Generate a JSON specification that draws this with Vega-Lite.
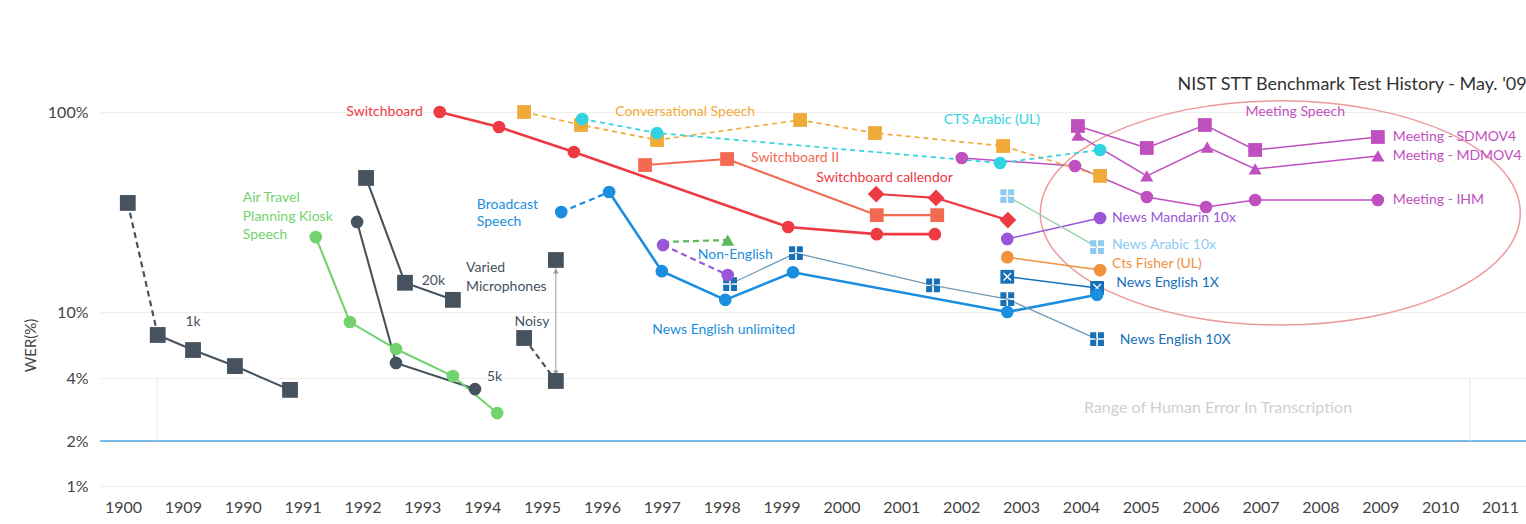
{
  "$schema": "https://vega.github.io/schema/vega-lite/v6.json",
  "width": 1426,
  "height": 495,
  "autosize": {"type": "none"},
  "padding": {"left": 100, "top": 0, "right": 0, "bottom": 29},
  "background": "white",
  "title": {
    "text": "NIST STT Benchmark Test History - May. '09",
    "anchor": "end",
    "orient": "top",
    "offset": -94,
    "font": "Lato",
    "fontSize": 18,
    "fontWeight": "normal",
    "color": "#333333"
  },
  "config": {"view": {"stroke": null}, "font": "Lato"},
  "datasets": {
    "pts": [
      {"s": "1k lead", "x": 1988.08, "y": 35.1},
      {"s": "1k", "x": 1988.58, "y": 7.27},
      {"s": "1k", "x": 1989.17, "y": 5.9},
      {"s": "1k", "x": 1989.87, "y": 4.72},
      {"s": "1k", "x": 1990.79, "y": 3.51},
      {"s": "20k", "x": 1992.06, "y": 46.8},
      {"s": "20k", "x": 1992.71, "y": 14.0},
      {"s": "20k", "x": 1993.51, "y": 11.5},
      {"s": "5k", "x": 1991.91, "y": 28.2},
      {"s": "5k", "x": 1992.56, "y": 4.93},
      {"s": "5k", "x": 1993.88, "y": 3.54},
      {"s": "ATIS", "x": 1991.22, "y": 23.7},
      {"s": "ATIS", "x": 1991.79, "y": 8.7},
      {"s": "ATIS", "x": 1992.56, "y": 5.98},
      {"s": "ATIS", "x": 1993.51, "y": 4.11},
      {"s": "ATIS", "x": 1994.25, "y": 2.72},
      {"s": "Noisy", "x": 1994.7, "y": 6.97},
      {"s": "Noisy", "x": 1995.23, "y": 3.87},
      {"s": "Varied", "x": 1995.23, "y": 18.2},
      {"s": "Switchboard", "x": 1993.29, "y": 100},
      {"s": "Switchboard", "x": 1994.28, "y": 84.1},
      {"s": "Switchboard", "x": 1995.53, "y": 63.1},
      {"s": "Switchboard", "x": 1999.11, "y": 26.6},
      {"s": "Switchboard", "x": 2000.59, "y": 24.5},
      {"s": "Switchboard", "x": 2001.56, "y": 24.5},
      {"s": "Switchboard cellular", "x": 2000.58, "y": 38.9},
      {"s": "Switchboard cellular", "x": 2001.58, "y": 37.2},
      {"s": "Switchboard cellular", "x": 2002.78, "y": 28.8},
      {"s": "Switchboard II", "x": 1996.72, "y": 54.3},
      {"s": "Switchboard II", "x": 1998.09, "y": 58.2},
      {"s": "Switchboard II", "x": 2000.59, "y": 30.5},
      {"s": "Switchboard II", "x": 2001.6, "y": 30.5},
      {"s": "Conversational Speech", "x": 1994.7, "y": 100},
      {"s": "Conversational Speech", "x": 1995.65, "y": 86.1},
      {"s": "Conversational Speech", "x": 1996.92, "y": 72.4},
      {"s": "Conversational Speech", "x": 1999.31, "y": 91.2},
      {"s": "Conversational Speech", "x": 2000.56, "y": 78.5},
      {"s": "Conversational Speech", "x": 2002.7, "y": 67.6},
      {"s": "Conversational Speech", "x": 2004.32, "y": 47.9},
      {"s": "CTS Arabic (UL)", "x": 1995.67, "y": 92.3},
      {"s": "CTS Arabic (UL)", "x": 1996.92, "y": 78.5},
      {"s": "CTS Arabic (UL)", "x": 2002.65, "y": 55.6},
      {"s": "CTS Arabic (UL)", "x": 2004.32, "y": 64.6},
      {"s": "Broadcast lead", "x": 1995.32, "y": 31.6},
      {"s": "Broadcast News", "x": 1996.12, "y": 39.8},
      {"s": "Broadcast News", "x": 1997.0, "y": 16.0},
      {"s": "Broadcast News", "x": 1998.06, "y": 11.5},
      {"s": "Broadcast News", "x": 1999.19, "y": 15.8},
      {"s": "Broadcast News", "x": 2002.77, "y": 10.0},
      {"s": "Broadcast News", "x": 2004.27, "y": 12.2},
      {"s": "Non-English", "x": 1997.02, "y": 21.6},
      {"s": "Non-English", "x": 1998.1, "y": 15.3},
      {"s": "Non-English tri", "x": 1998.1, "y": 22.9},
      {"s": "News English 10X", "x": 1998.14, "y": 13.8},
      {"s": "News English 10X", "x": 1999.24, "y": 19.7},
      {"s": "News English 10X", "x": 2001.53, "y": 13.6},
      {"s": "News English 10X", "x": 2002.77, "y": 11.6},
      {"s": "News English 10X", "x": 2004.27, "y": 6.87},
      {"s": "News English 1X", "x": 2002.77, "y": 15.0},
      {"s": "News English 1X", "x": 2004.27, "y": 13.2},
      {"s": "News Arabic 10x", "x": 2002.77, "y": 38.0},
      {"s": "News Arabic 10x", "x": 2004.27, "y": 21.1},
      {"s": "News Mandarin 10x", "x": 2002.77, "y": 23.2},
      {"s": "News Mandarin 10x", "x": 2004.32, "y": 29.5},
      {"s": "Cts Fisher (UL)", "x": 2002.77, "y": 18.8},
      {"s": "Cts Fisher (UL)", "x": 2004.32, "y": 16.2},
      {"s": "Meeting - SDMOV4", "x": 2003.95, "y": 85.1},
      {"s": "Meeting - SDMOV4", "x": 2005.1, "y": 66.1},
      {"s": "Meeting - SDMOV4", "x": 2006.07, "y": 86.1},
      {"s": "Meeting - SDMOV4", "x": 2006.91, "y": 64.6},
      {"s": "Meeting - SDMOV4", "x": 2008.96, "y": 75.0},
      {"s": "Meeting - MDMOV4", "x": 2003.95, "y": 76.7},
      {"s": "Meeting - MDMOV4", "x": 2005.1, "y": 47.9},
      {"s": "Meeting - MDMOV4", "x": 2006.11, "y": 66.8},
      {"s": "Meeting - MDMOV4", "x": 2006.91, "y": 51.9},
      {"s": "Meeting - MDMOV4", "x": 2008.96, "y": 60.3},
      {"s": "Meeting - IHM", "x": 2002.01, "y": 58.9},
      {"s": "Meeting - IHM", "x": 2003.9, "y": 53.7},
      {"s": "Meeting - IHM", "x": 2005.1, "y": 37.6},
      {"s": "Meeting - IHM", "x": 2006.09, "y": 33.5},
      {"s": "Meeting - IHM", "x": 2006.91, "y": 36.3},
      {"s": "Meeting - IHM", "x": 2008.96, "y": 36.3}
    ],
    "links": [
      {"s": "1k lead", "x": 1988.08, "y": 35.1, "x2": 1988.58, "y2": 7.27},
      {"s": "Broadcast lead", "x": 1995.32, "y": 31.6, "x2": 1996.12, "y2": 39.8},
      {"s": "Non-English tri", "x": 1997.02, "y": 22.4, "x2": 1998.1, "y2": 22.9}
    ],
    "arrow": [
      {"s": "Arrow", "x": 1995.23, "y": 17.2, "x2": 1995.23, "y2": 3.95}
    ],
    "arrowTips": [
      {"end": "top", "x": 1995.23, "y": 16.0},
      {"end": "bottom", "x": 1995.23, "y": 4.3}
    ],
    "humanRange": [
      {"x": 1988.57, "y": 4, "y2": 2},
      {"x": 2010.5, "y": 4, "y2": 2}
    ],
    "ellipse": [
      {"x": 2007.33, "y": 31.3}
    ],
    "labelsLeft": [
      {"t": "20k", "s": "20k", "x": 1992.99, "y": 14.3},
      {"t": "5k", "s": "5k", "x": 1994.08, "y": 4.06},
      {"t": "Varied", "s": "Varied", "x": 1993.73, "y": 16.6},
      {"t": "Microphones", "s": "Varied", "x": 1993.73, "y": 13.3},
      {"t": "Air Travel", "s": "ATIS", "x": 1990.0, "y": 37.2},
      {"t": "Planning Kiosk", "s": "ATIS", "x": 1990.0, "y": 29.9},
      {"t": "Speech", "s": "ATIS", "x": 1990.0, "y": 24.3},
      {"t": "CTS Arabic (UL)", "s": "CTS Arabic (UL)", "x": 2001.71, "y": 91.2},
      {"t": "Switchboard II", "s": "Switchboard II", "x": 1998.49, "y": 58.9},
      {"t": "Switchboard callendor", "s": "Switchboard cellular", "x": 1999.58, "y": 46.8},
      {"t": "Broadcast", "s": "Broadcast News", "x": 1993.91, "y": 34.3},
      {"t": "Speech", "s": "Broadcast News", "x": 1993.91, "y": 28.2},
      {"t": "Non-English", "s": "Broadcast News", "x": 1997.6, "y": 19.3},
      {"t": "News English unlimited", "s": "Broadcast News", "x": 1996.84, "y": 7.79},
      {"t": "News Mandarin 10x", "s": "News Mandarin 10x", "x": 2004.52, "y": 29.5},
      {"t": "News Arabic 10x", "s": "News Arabic 10x", "x": 2004.52, "y": 21.6},
      {"t": "Cts Fisher (UL)", "s": "Cts Fisher (UL)", "x": 2004.52, "y": 17.4},
      {"t": "News English 1X", "s": "News English 10X", "x": 2004.59, "y": 14.0},
      {"t": "News English 10X", "s": "News English 10X", "x": 2004.65, "y": 6.78},
      {"t": "Meeting - SDMOV4", "s": "Meeting - SDMOV4", "x": 2009.21, "y": 75.0},
      {"t": "Meeting - MDMOV4", "s": "Meeting - MDMOV4", "x": 2009.21, "y": 60.3},
      {"t": "Meeting - IHM", "s": "Meeting - IHM", "x": 2009.21, "y": 36.3}
    ],
    "labelsCenter": [
      {"t": "1k", "s": "1k", "x": 1989.17, "y": 8.7},
      {"t": "Noisy", "s": "Noisy", "x": 1994.83, "y": 8.7},
      {"t": "Conversational Speech", "s": "Conversational Speech", "x": 1997.39, "y": 100},
      {"t": "Meeting Speech", "s": "Meeting - SDMOV4", "x": 2007.58, "y": 100}
    ],
    "labelsRight": [
      {"t": "Switchboard", "s": "Switchboard", "x": 1993.01, "y": 100}
    ],
    "note": [
      {"t": "Range of Human Error In Transcription", "x": 2006.29, "y": 2.88}
    ]
  },
  "layer": [
    {
      "data": {"values": [{"y": 2}]},
      "mark": {"type": "rule", "color": "#4ea6e0", "strokeWidth": 1.5},
      "encoding": {
        "y": {
          "field": "y",
          "type": "quantitative",
          "scale": {"type": "log", "domain": [1, 2, 4, 10, 100], "range": [486, 441, 378, 312, 112], "nice": false, "zero": false},
          "axis": {
            "values": [1, 2, 4, 10, 100],
            "labelExpr": "datum.value + '%'",
            "title": "WER(%)",
            "titleFont": "Lato",
            "titleFontSize": 15,
            "titleFontWeight": "normal",
            "titleColor": "#444444",
            "titleX": -70,
            "titleY": 345,
            "titleAngle": -90,
            "titleAlign": "center",
            "titleBaseline": "middle",
            "labelFont": "Lato",
            "labelFontSize": 16,
            "labelColor": "#444444",
            "labelPadding": 12,
            "ticks": false,
            "domain": false,
            "grid": true,
            "gridColor": "#eeeeee",
            "gridWidth": 1
          }
        }
      }
    },
    {
      "data": {"name": "humanRange"},
      "mark": {"type": "rule", "color": "#e8e8e8", "strokeWidth": 1},
      "encoding": {
        "x": {
          "field": "x",
          "type": "quantitative",
          "scale": {"type": "linear", "domain": [1987.616, 2011.434], "nice": false, "zero": false},
          "axis": {
            "values": [1988, 1989, 1990, 1991, 1992, 1993, 1994, 1995, 1996, 1997, 1998, 1999, 2000, 2001, 2002, 2003, 2004, 2005, 2006, 2007, 2008, 2009, 2010, 2011],
            "format": "d",
            "labelExpr": "datum.value == 1988 ? '1900' : datum.value == 1989 ? '1909' : datum.label",
            "title": null,
            "grid": false,
            "ticks": false,
            "domain": false,
            "labelFont": "Lato",
            "labelFontSize": 16,
            "labelColor": "#444444",
            "labelPadding": 4,
            "labelOverlap": false,
            "labelFlush": false
          }
        },
        "y": {"field": "y", "type": "quantitative"},
        "y2": {"field": "y2"}
      }
    },
    {
      "data": {"name": "note"},
      "mark": {"type": "text", "font": "Lato", "fontSize": 16, "color": "#cfcfcf", "align": "center", "baseline": "middle"},
      "encoding": {
        "x": {"field": "x", "type": "quantitative"},
        "y": {"field": "y", "type": "quantitative"},
        "text": {"field": "t"}
      }
    },
    {
      "data": {"name": "ellipse"},
      "mark": {
        "type": "point",
        "shape": "M -1 0 C -1 -0.258 -0.552 -0.467 0 -0.467 C 0.552 -0.467 1 -0.258 1 0 C 1 0.258 0.552 0.467 0 0.467 C -0.552 0.467 -1 0.258 -1 0 Z",
        "size": 230400,
        "filled": false,
        "color": "#eb9a9a",
        "strokeWidth": 1.5,
        "opacity": 1
      },
      "encoding": {
        "x": {"field": "x", "type": "quantitative"},
        "y": {"field": "y", "type": "quantitative"}
      }
    },
    {
      "data": {"name": "arrow"},
      "mark": {"type": "rule", "color": "#9a9a9a", "strokeWidth": 1},
      "encoding": {
        "x": {"field": "x", "type": "quantitative"},
        "y": {"field": "y", "type": "quantitative"},
        "x2": {"field": "x2"},
        "y2": {"field": "y2"}
      }
    },
    {
      "data": {"name": "arrowTips"},
      "mark": {"type": "point", "filled": true, "size": 30, "color": "#9a9a9a", "opacity": 1},
      "encoding": {
        "x": {"field": "x", "type": "quantitative"},
        "y": {"field": "y", "type": "quantitative"},
        "shape": {"field": "end", "type": "nominal", "scale": {"domain": ["top", "bottom"], "range": ["triangle-up", "triangle-down"]}, "legend": null}
      }
    },
    {
      "data": {"name": "links"},
      "mark": {"type": "rule", "strokeWidth": 2.2, "strokeDash": [6, 4]},
      "encoding": {
        "x": {"field": "x", "type": "quantitative"},
        "y": {"field": "y", "type": "quantitative"},
        "x2": {"field": "x2"},
        "y2": {"field": "y2"},
        "color": {
          "field": "s",
          "type": "nominal",
          "legend": null,
          "scale": {
            "domain": ["1k", "1k lead", "20k", "5k", "Noisy", "Varied", "ATIS", "Switchboard", "Switchboard cellular", "Switchboard II", "Conversational Speech", "CTS Arabic (UL)", "Broadcast lead", "Broadcast News", "Non-English", "Non-English tri", "News English 10X", "News English 1X", "News Arabic 10x", "News Mandarin 10x", "Cts Fisher (UL)", "Meeting - SDMOV4", "Meeting - MDMOV4", "Meeting - IHM"],
            "range": ["#46535f", "#46535f", "#46535f", "#46535f", "#46535f", "#46535f", "#72d36e", "#ee3a43", "#ee3a43", "#f26a52", "#f0aa3a", "#2fd4e0", "#1c8ee0", "#1c8ee0", "#9b55d8", "#5cb85c", "#1670b8", "#1670b8", "#8ecbf2", "#9b55d8", "#f0913c", "#c04fc0", "#c04fc0", "#c04fc0"]
          }
        }
      }
    },
    {
      "data": {"name": "pts"},
      "transform": [{"filter": {"field": "s", "oneOf": ["Switchboard", "Broadcast News"]}}],
      "mark": {"type": "line", "strokeWidth": 2.6},
      "encoding": {
        "x": {"field": "x", "type": "quantitative"},
        "y": {"field": "y", "type": "quantitative"},
        "color": {"field": "s", "type": "nominal", "legend": null}
      }
    },
    {
      "data": {"name": "pts"},
      "transform": [{"filter": {"field": "s", "oneOf": ["1k", "20k", "5k", "ATIS", "Switchboard cellular", "Switchboard II"]}}],
      "mark": {"type": "line", "strokeWidth": 2.1},
      "encoding": {
        "x": {"field": "x", "type": "quantitative"},
        "y": {"field": "y", "type": "quantitative"},
        "color": {"field": "s", "type": "nominal", "legend": null}
      }
    },
    {
      "data": {"name": "pts"},
      "transform": [{"filter": {"field": "s", "oneOf": ["Meeting - SDMOV4", "Meeting - MDMOV4", "Meeting - IHM", "News Mandarin 10x", "Cts Fisher (UL)", "News English 1X"]}}],
      "mark": {"type": "line", "strokeWidth": 1.5},
      "encoding": {
        "x": {"field": "x", "type": "quantitative"},
        "y": {"field": "y", "type": "quantitative"},
        "color": {"field": "s", "type": "nominal", "legend": null}
      }
    },
    {
      "data": {"name": "pts"},
      "transform": [{"filter": {"field": "s", "equal": "News English 10X"}}],
      "mark": {"type": "line", "strokeWidth": 1.3, "color": "#6d9ab8"},
      "encoding": {
        "x": {"field": "x", "type": "quantitative"},
        "y": {"field": "y", "type": "quantitative"}
      }
    },
    {
      "data": {"name": "pts"},
      "transform": [{"filter": {"field": "s", "equal": "News Arabic 10x"}}],
      "mark": {"type": "line", "strokeWidth": 1.3, "color": "#93d3a6"},
      "encoding": {
        "x": {"field": "x", "type": "quantitative"},
        "y": {"field": "y", "type": "quantitative"}
      }
    },
    {
      "data": {"name": "pts"},
      "transform": [{"filter": {"field": "s", "oneOf": ["Conversational Speech", "CTS Arabic (UL)"]}}],
      "mark": {"type": "line", "strokeWidth": 1.7, "strokeDash": [5, 4]},
      "encoding": {
        "x": {"field": "x", "type": "quantitative"},
        "y": {"field": "y", "type": "quantitative"},
        "color": {"field": "s", "type": "nominal", "legend": null}
      }
    },
    {
      "data": {"name": "pts"},
      "transform": [{"filter": {"field": "s", "oneOf": ["Non-English", "Noisy"]}}],
      "mark": {"type": "line", "strokeWidth": 2.2, "strokeDash": [6, 4]},
      "encoding": {
        "x": {"field": "x", "type": "quantitative"},
        "y": {"field": "y", "type": "quantitative"},
        "color": {"field": "s", "type": "nominal", "legend": null}
      }
    },
    {
      "data": {"name": "pts"},
      "transform": [{"filter": {"field": "s", "oneOf": ["1k", "1k lead", "20k", "Noisy", "Varied"]}}],
      "mark": {"type": "point", "shape": "square", "filled": true, "size": 250, "opacity": 1},
      "encoding": {
        "x": {"field": "x", "type": "quantitative"},
        "y": {"field": "y", "type": "quantitative"},
        "color": {"field": "s", "type": "nominal", "legend": null}
      }
    },
    {
      "data": {"name": "pts"},
      "transform": [{"filter": {"field": "s", "oneOf": ["Switchboard II", "Conversational Speech", "Meeting - SDMOV4", "News English 1X"]}}],
      "mark": {"type": "point", "shape": "square", "filled": true, "size": 190, "opacity": 1},
      "encoding": {
        "x": {"field": "x", "type": "quantitative"},
        "y": {"field": "y", "type": "quantitative"},
        "color": {"field": "s", "type": "nominal", "legend": null}
      }
    },
    {
      "data": {"name": "pts"},
      "transform": [{"filter": {"field": "s", "equal": "News English 1X"}}],
      "mark": {"type": "point", "shape": "M -0.55 -0.55 L 0.55 0.55 M 0.55 -0.55 L -0.55 0.55", "filled": false, "size": 190, "color": "white", "strokeWidth": 1.4, "opacity": 1},
      "encoding": {
        "x": {"field": "x", "type": "quantitative"},
        "y": {"field": "y", "type": "quantitative"}
      }
    },
    {
      "data": {"name": "pts"},
      "transform": [{"filter": {"field": "s", "oneOf": ["News English 10X", "News Arabic 10x"]}}],
      "mark": {"type": "point", "shape": "M -1 -1 H -0.12 V -0.12 H -1 Z M 0.12 -1 H 1 V -0.12 H 0.12 Z M -1 0.12 H -0.12 V 1 H -1 Z M 0.12 0.12 H 1 V 1 H 0.12 Z", "filled": true, "size": 190, "opacity": 1},
      "encoding": {
        "x": {"field": "x", "type": "quantitative"},
        "y": {"field": "y", "type": "quantitative"},
        "color": {"field": "s", "type": "nominal", "legend": null}
      }
    },
    {
      "data": {"name": "pts"},
      "transform": [{"filter": {"field": "s", "oneOf": ["5k", "ATIS", "Switchboard", "CTS Arabic (UL)", "Broadcast lead", "Broadcast News", "Non-English", "News Mandarin 10x", "Cts Fisher (UL)", "Meeting - IHM"]}}],
      "mark": {"type": "point", "shape": "circle", "filled": true, "size": 160, "opacity": 1},
      "encoding": {
        "x": {"field": "x", "type": "quantitative"},
        "y": {"field": "y", "type": "quantitative"},
        "color": {"field": "s", "type": "nominal", "legend": null}
      }
    },
    {
      "data": {"name": "pts"},
      "transform": [{"filter": {"field": "s", "equal": "Switchboard cellular"}}],
      "mark": {"type": "point", "shape": "diamond", "filled": true, "size": 280, "opacity": 1},
      "encoding": {
        "x": {"field": "x", "type": "quantitative"},
        "y": {"field": "y", "type": "quantitative"},
        "color": {"field": "s", "type": "nominal", "legend": null}
      }
    },
    {
      "data": {"name": "pts"},
      "transform": [{"filter": {"field": "s", "oneOf": ["Non-English tri", "Meeting - MDMOV4"]}}],
      "mark": {"type": "point", "shape": "triangle-up", "filled": true, "size": 170, "opacity": 1},
      "encoding": {
        "x": {"field": "x", "type": "quantitative"},
        "y": {"field": "y", "type": "quantitative"},
        "color": {"field": "s", "type": "nominal", "legend": null}
      }
    },
    {
      "data": {"name": "labelsLeft"},
      "mark": {"type": "text", "font": "Lato", "fontSize": 14, "align": "left", "baseline": "middle"},
      "encoding": {
        "x": {"field": "x", "type": "quantitative"},
        "y": {"field": "y", "type": "quantitative"},
        "text": {"field": "t"},
        "color": {"field": "s", "type": "nominal", "legend": null}
      }
    },
    {
      "data": {"name": "labelsCenter"},
      "mark": {"type": "text", "font": "Lato", "fontSize": 14, "align": "center", "baseline": "middle"},
      "encoding": {
        "x": {"field": "x", "type": "quantitative"},
        "y": {"field": "y", "type": "quantitative"},
        "text": {"field": "t"},
        "color": {"field": "s", "type": "nominal", "legend": null}
      }
    },
    {
      "data": {"name": "labelsRight"},
      "mark": {"type": "text", "font": "Lato", "fontSize": 14, "align": "right", "baseline": "middle"},
      "encoding": {
        "x": {"field": "x", "type": "quantitative"},
        "y": {"field": "y", "type": "quantitative"},
        "text": {"field": "t"},
        "color": {"field": "s", "type": "nominal", "legend": null}
      }
    }
  ]
}
